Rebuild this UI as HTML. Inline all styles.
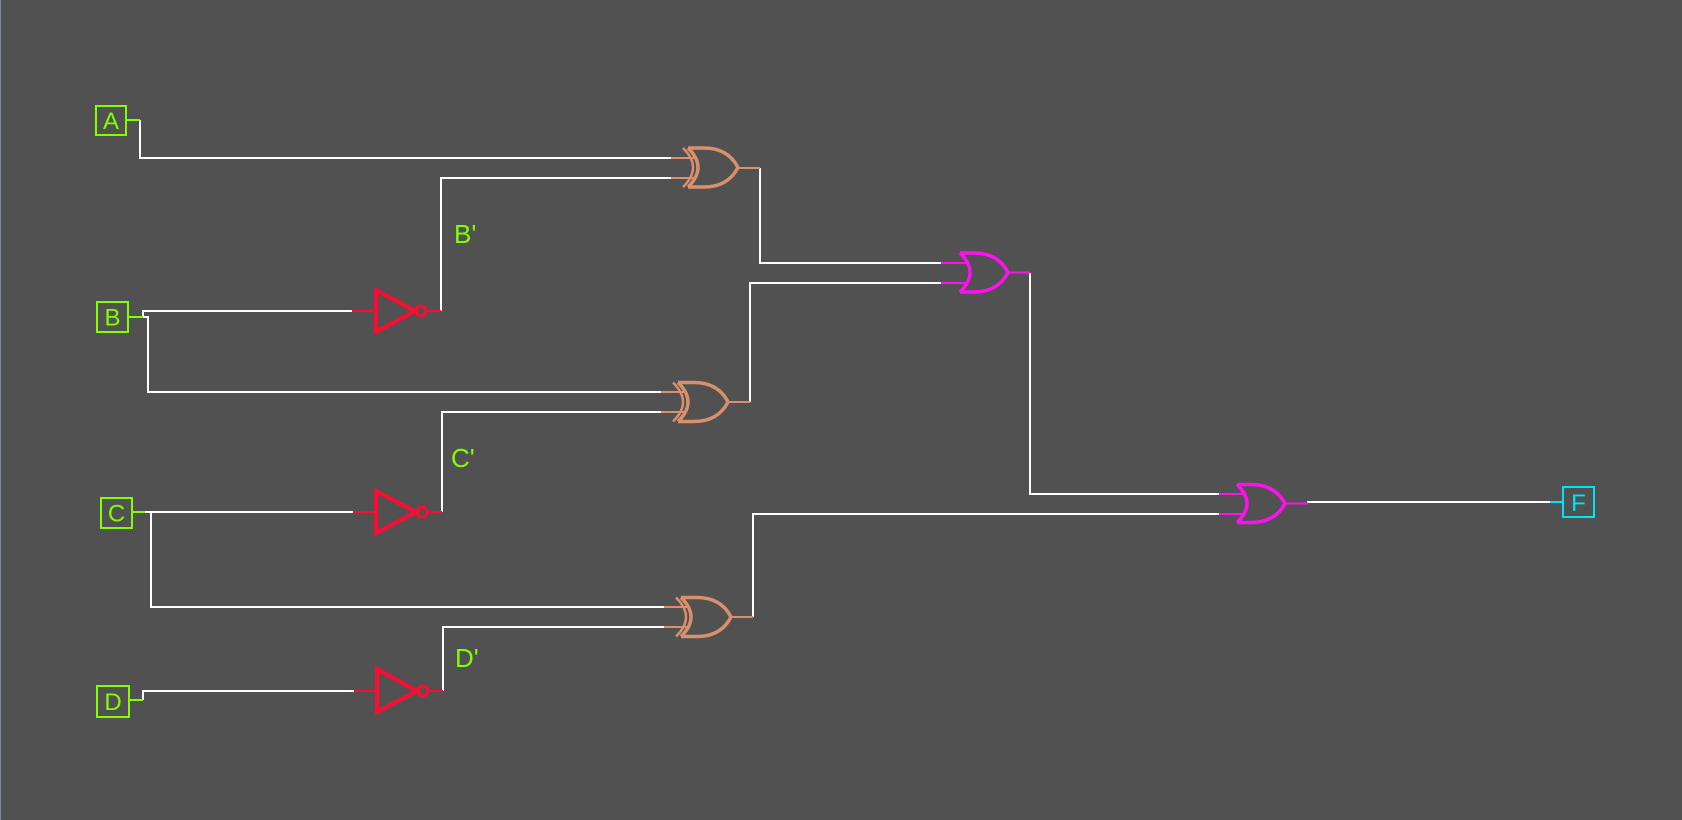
<!DOCTYPE html>
<html><head><meta charset="utf-8"><style>
html,body{margin:0;padding:0;background:#515151;}
svg{display:block;}
text{font-family:"Liberation Sans","DejaVu Sans",sans-serif;}
</style></head><body>
<svg width="1682" height="820" viewBox="0 0 1682 820" xmlns="http://www.w3.org/2000/svg">
<rect x="0" y="0" width="1682" height="820" fill="#515151"/>
<line x1="0.5" y1="0" x2="0.5" y2="820" stroke="#7b8ca0" stroke-width="1"/>

<!-- white wires -->
<g fill="none" stroke="#ffffff" stroke-width="2">
<path d="M140,120 V158 H671"/>
<path d="M441,311 V178 H671"/>
<path d="M143,317 V311 H352"/>
<path d="M143,317 H148 V392 H661"/>
<path d="M442,512 V412 H661"/>
<path d="M145,512 H353"/>
<path d="M151,512 V607 H664"/>
<path d="M143,700 V691 H354"/>
<path d="M443,691 V627 H664"/>
<path d="M760,168 V263 H941"/>
<path d="M750,402 V283 H941"/>
<path d="M1030,273 V494 H1219"/>
<path d="M753,617 V514 H1219"/>
<path d="M1307,502 H1550"/>
</g>

<!-- input boxes -->
<g fill="none" stroke="#80ff00" stroke-width="2">
<rect x="96" y="106" width="30" height="29"/>
<rect x="97" y="302" width="31" height="30"/>
<rect x="101" y="498" width="31" height="30"/>
<rect x="97" y="686" width="32" height="31"/>
<path d="M127,120 H140"/>
<path d="M128,317 H143"/>
<path d="M132,512 H145"/>
<path d="M129,700 H143"/>
</g>
<g fill="#80ff00" font-size="24" text-anchor="middle">
<text x="111" y="129">A</text>
<text x="112.5" y="325.5">B</text>
<text x="116.5" y="521.5">C</text>
<text x="113" y="710">D</text>
</g>
<g fill="#80ff00" font-size="26">
<text x="454" y="243">B'</text>
<text x="451" y="467">C'</text>
<text x="455" y="667">D'</text>
</g>

<!-- output F -->
<g fill="none" stroke="#00e5f5" stroke-width="2">
<rect x="1563" y="487" width="31" height="30"/>
<path d="M1550,502 H1563"/>
</g>
<text x="1578.5" y="511" fill="#00e5f5" font-size="24" text-anchor="middle">F</text>

<!-- NOT gates -->
<g fill="none" stroke="#ff0a30">
<g stroke-width="2"><path d="M352,311 H376"/><path d="M426,311 H441"/></g>
<polygon points="376,290 415,311 376,332" stroke-width="4" stroke-linejoin="miter"/>
<circle cx="421" cy="311" r="5" stroke-width="3"/>

<g stroke-width="2"><path d="M353,512 H376"/><path d="M427,512 H442"/></g>
<polygon points="376,491 416,512 376,533" stroke-width="4"/>
<circle cx="422" cy="512" r="5" stroke-width="3"/>

<g stroke-width="2"><path d="M354,691 H377"/><path d="M428,691 H443"/></g>
<polygon points="377,669 417,691 377,712" stroke-width="4"/>
<circle cx="423" cy="691" r="5" stroke-width="3"/>
</g>

<!-- XOR gates -->
<g fill="none" stroke="#d8916c">
<!-- XOR1 -->
<g transform="translate(688,148)">
<path d="M-17,10 H6 M-17,30 H6" stroke-width="2"/>
<path d="M-5,0 Q15,19.5 -5,39" stroke-width="2.5"/>
<path d="M0,0 Q20,19.5 0,39" stroke-width="3.5"/>
<path d="M0,0 L16,0 Q40,0 50,19.5 Q40,39 16,39 L0,39" stroke-width="3.5"/>
<path d="M50,20 H72" stroke-width="2"/>
</g>
<!-- XOR2 -->
<g transform="translate(678,382.5)">
<path d="M-17,9.5 H6 M-17,29.5 H6" stroke-width="2"/>
<path d="M-5,0 Q15,19.5 -5,39" stroke-width="2.5"/>
<path d="M0,0 Q20,19.5 0,39" stroke-width="3.5"/>
<path d="M0,0 L16,0 Q40,0 50,19.5 Q40,39 16,39 L0,39" stroke-width="3.5"/>
<path d="M50,19.5 H72" stroke-width="2"/>
</g>
<!-- XOR3 -->
<g transform="translate(681,597.5)">
<path d="M-17,9.5 H6 M-17,29.5 H6" stroke-width="2"/>
<path d="M-5,0 Q15,19.5 -5,39" stroke-width="2.5"/>
<path d="M0,0 Q20,19.5 0,39" stroke-width="3.5"/>
<path d="M0,0 L16,0 Q40,0 50,19.5 Q40,39 16,39 L0,39" stroke-width="3.5"/>
<path d="M50,19.5 H72" stroke-width="2"/>
</g>
</g>

<!-- OR gates -->
<g fill="none" stroke="#ff10f0">
<g transform="translate(960,253)">
<path d="M-19,10 H8 M-19,30 H8" stroke-width="2"/>
<path d="M0,0 Q20,19.5 0,39" stroke-width="3.5"/>
<path d="M0,0 L14,0 Q38,0 48,19.5 Q38,39 14,39 L0,39" stroke-width="3.5"/>
<path d="M48,19.5 H70" stroke-width="2"/>
</g>
<g transform="translate(1237,484.5)">
<path d="M-18,9.5 H8 M-18,29.5 H8" stroke-width="2"/>
<path d="M0,0 Q20,19 0,38" stroke-width="3.5"/>
<path d="M0,0 L14,0 Q38,0 48,19 Q38,38 14,38 L0,38" stroke-width="3.5"/>
<path d="M48,19 H71" stroke-width="2"/>
</g>
</g>
</svg>
</body></html>
